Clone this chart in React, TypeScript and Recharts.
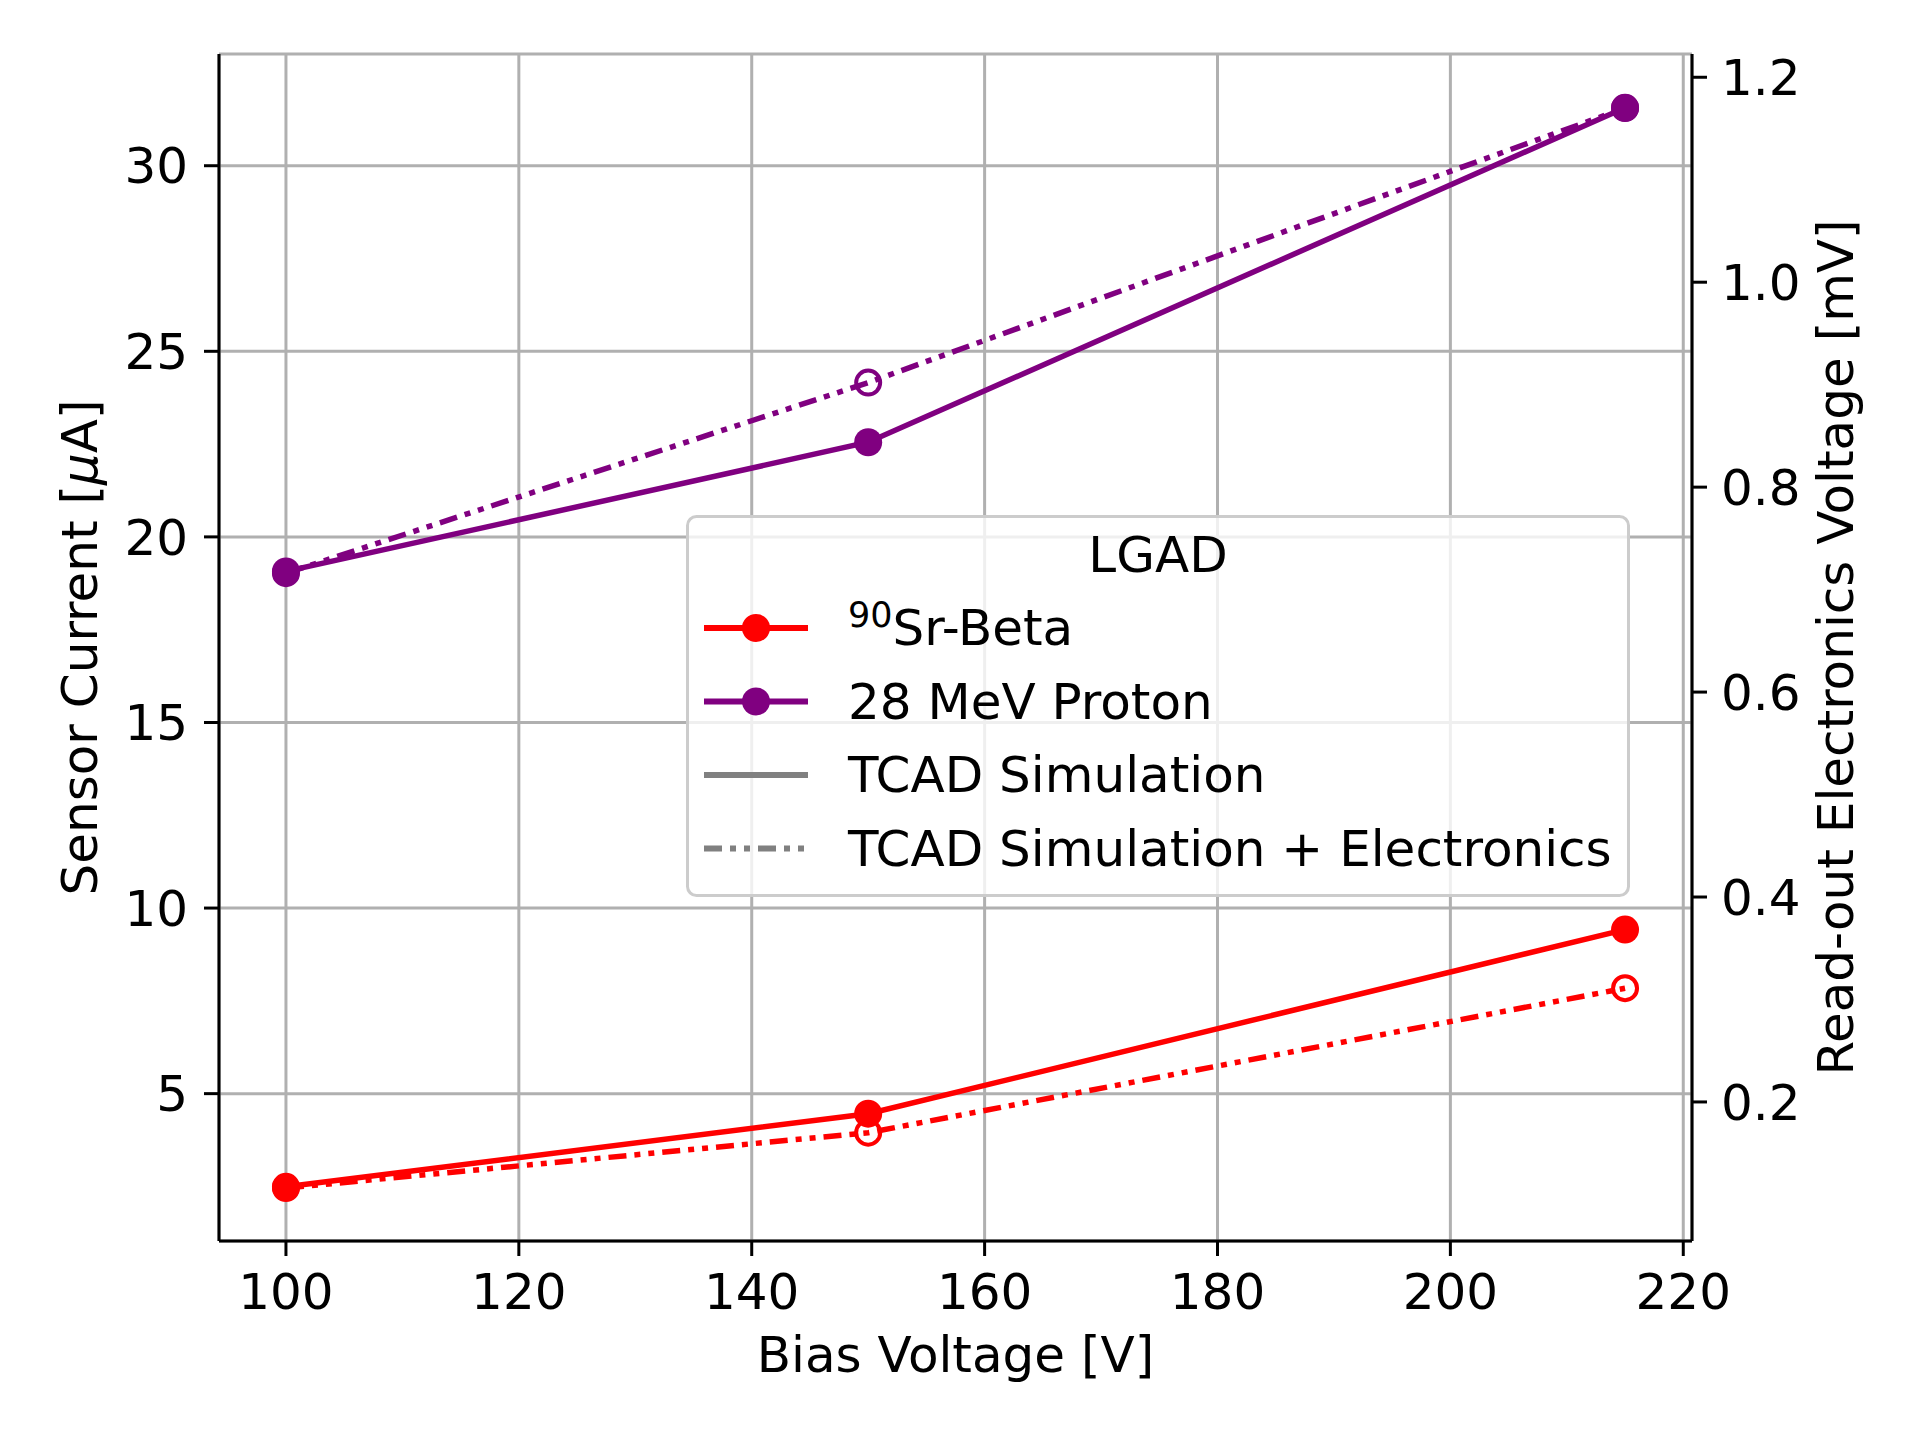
import React from "react"
import {
  ComposedChart,
  Line,
  XAxis,
  YAxis,
  CartesianGrid,
  Legend,
} from "recharts"

// bias voltage [V]
const biasVoltage = [100, 150, 215]
// TCAD simulation, sensor current [uA] (left axis)
const srBetaSim = [2.49, 4.46, 9.42]
const protonSim = [19.07, 22.55, 31.56]
// TCAD simulation + electronics, read-out voltage [mV] (right axis)
const srBetaElec = [0.116, 0.17, 0.311]
const protonElec = [0.716, 0.902, 1.17]

const xTicks = [100, 120, 140, 160, 180, 200, 220]
const leftTicks = [5, 10, 15, 20, 25, 30]
const rightTicks = [0.2, 0.4, 0.6, 0.8, 1.0, 1.2]

const xDomain: [number, number] = [94.25, 220.75]
const leftDomain: [number, number] = [1.03, 33.01]
const rightDomain: [number, number] = [0.0643, 1.2227]

const data = biasVoltage.map((bias, i) => ({
  bias,
  srSim: srBetaSim[i],
  protonSim: protonSim[i],
  srElec: srBetaElec[i],
  protonElec: protonElec[i],
}))

const RED = "#ff0000"
const PURPLE = "#800080"
const GRAY = "#808080"
const FONT = "DejaVu Sans"
const FS = 50
const DASH = "18 8 6 8 6 8"

function XTitle({ viewBox }: any) {
  const cx = viewBox.x + viewBox.width / 2
  return (
    <text x={cx} y={viewBox.y + 131} textAnchor="middle" fontFamily={FONT} fontSize={FS} fill="#000">
      Bias Voltage [V]
    </text>
  )
}

function LeftTitle({ viewBox }: any) {
  const cy = viewBox.y + viewBox.height / 2
  const x = 97
  return (
    <text
      x={x}
      y={cy}
      transform={`rotate(-90, ${x}, ${cy})`}
      textAnchor="middle"
      fontFamily={FONT}
      fontSize={FS}
      fill="#000"
    >
      Sensor Current [<tspan fontStyle="italic">μ</tspan>A]
    </text>
  )
}

function RightTitle({ viewBox }: any) {
  const cy = viewBox.y + viewBox.height / 2
  const x = 1853
  return (
    <text
      x={x}
      y={cy}
      transform={`rotate(-90, ${x}, ${cy})`}
      textAnchor="middle"
      fontFamily={FONT}
      fontSize={FS}
      fill="#000"
    >
      Read-out Electronics Voltage [mV]
    </text>
  )
}

const legendRows = [
  { id: "sr", color: RED, marker: true, dash: undefined as string | undefined },
  { id: "proton", color: PURPLE, marker: true, dash: undefined },
  { id: "sim", color: GRAY, marker: false, dash: undefined },
  { id: "elec", color: GRAY, marker: false, dash: DASH },
]

function LegendLabel({ id, y }: { id: string; y: number }) {
  const common = { fontFamily: FONT, fontSize: FS, fill: "#000" }
  if (id === "sr") {
    return (
      <text x={162} y={y} {...common}>
        <tspan fontSize={35} dy={-18}>90</tspan>
        <tspan dy={18}>Sr-Beta</tspan>
      </text>
    )
  }
  const label =
    id === "proton" ? "28 MeV Proton" : id === "sim" ? "TCAD Simulation" : "TCAD Simulation + Electronics"
  return (
    <text x={162} y={y} {...common}>
      {label}
    </text>
  )
}

function LgadLegend() {
  const w = 944
  const h = 382
  return (
    <svg width={w} height={h} style={{ display: "block" }}>
      <rect
        x={1.5}
        y={1.5}
        width={w - 3}
        height={h - 3}
        rx={9}
        fill="#fff"
        fillOpacity={0.8}
        stroke="#cccccc"
        strokeWidth={3}
      />
      <text x={w / 2} y={57} textAnchor="middle" fontFamily={FONT} fontSize={FS} fill="#000">
        LGAD
      </text>
      {legendRows.map((row, i) => {
        const cy = 113 + i * 73.5
        return (
          <g key={row.id}>
            <line
              x1={18}
              x2={122}
              y1={cy}
              y2={cy}
              stroke={row.color}
              strokeWidth={6}
              strokeDasharray={row.dash}
            />
            {row.marker && <circle cx={70} cy={cy} r={14} fill={row.color} />}
            <LegendLabel id={row.id} y={cy + 17} />
          </g>
        )
      })}
    </svg>
  )
}

const tickStyle = { fontFamily: FONT, fontSize: FS, fill: "#000" }
const axisLine = { stroke: "#000", strokeWidth: 3 }
const tickLine = { stroke: "#000", strokeWidth: 3 }

export default function App() {
  return (
    <div style={{ position: "absolute", left: 0, top: 0, width: 1920, height: 1440, background: "#fff" }}>
      <ComposedChart width={1920} height={1440} data={data} margin={{ top: 54, right: 0, bottom: 0, left: 0 }}>
        <CartesianGrid xAxisId="bottom" yAxisId="left" stroke="#b0b0b0" strokeWidth={3} />
        <XAxis
          xAxisId="bottom"
          dataKey="bias"
          type="number"
          domain={xDomain}
          ticks={xTicks}
          height={199}
          tick={tickStyle}
          tickSize={15}
          tickMargin={17}
          axisLine={axisLine}
          tickLine={tickLine}
          label={<XTitle />}
          allowDataOverflow
        />
        <XAxis
          xAxisId="top"
          orientation="top"
          dataKey="bias"
          type="number"
          domain={xDomain}
          height={0}
          tick={false}
          tickLine={false}
          axisLine={axisLine}
          allowDataOverflow
        />
        <YAxis
          yAxisId="left"
          type="number"
          domain={leftDomain}
          ticks={leftTicks}
          width={219}
          tick={tickStyle}
          tickSize={15}
          tickMargin={16}
          axisLine={axisLine}
          tickLine={tickLine}
          label={<LeftTitle />}
          allowDataOverflow
        />
        <YAxis
          yAxisId="right"
          orientation="right"
          type="number"
          domain={rightDomain}
          ticks={rightTicks}
          width={228}
          tick={tickStyle}
          tickSize={15}
          tickMargin={14}
          tickFormatter={(v: number) => v.toFixed(1)}
          axisLine={axisLine}
          tickLine={tickLine}
          label={<RightTitle />}
          allowDataOverflow
        />
        <Line
          xAxisId="bottom"
          yAxisId="left"
          dataKey="srSim"
          stroke={RED}
          strokeWidth={5.5}
          dot={{ r: 14, fill: RED, stroke: RED, strokeWidth: 0 }}
          activeDot={false}
          isAnimationActive={false}
        />
        <Line
          xAxisId="bottom"
          yAxisId="right"
          dataKey="srElec"
          stroke={RED}
          strokeWidth={5.5}
          strokeDasharray={DASH}
          dot={{ r: 12, fill: "none", stroke: RED, strokeWidth: 4, strokeDasharray: "none" }}
          activeDot={false}
          isAnimationActive={false}
        />
        <Line
          xAxisId="bottom"
          yAxisId="left"
          dataKey="protonSim"
          stroke={PURPLE}
          strokeWidth={5.5}
          dot={{ r: 14, fill: PURPLE, stroke: PURPLE, strokeWidth: 0 }}
          activeDot={false}
          isAnimationActive={false}
        />
        <Line
          xAxisId="bottom"
          yAxisId="right"
          dataKey="protonElec"
          stroke={PURPLE}
          strokeWidth={5.5}
          strokeDasharray={DASH}
          dot={{ r: 12, fill: "none", stroke: PURPLE, strokeWidth: 4, strokeDasharray: "none" }}
          activeDot={false}
          isAnimationActive={false}
        />
        <Legend
          content={<LgadLegend />}
          layout="horizontal"
          verticalAlign="middle"
          align="center"
          wrapperStyle={{ position: "absolute", left: 686, top: 515, width: 944, height: 382 }}
        />
      </ComposedChart>
    </div>
  )
}
